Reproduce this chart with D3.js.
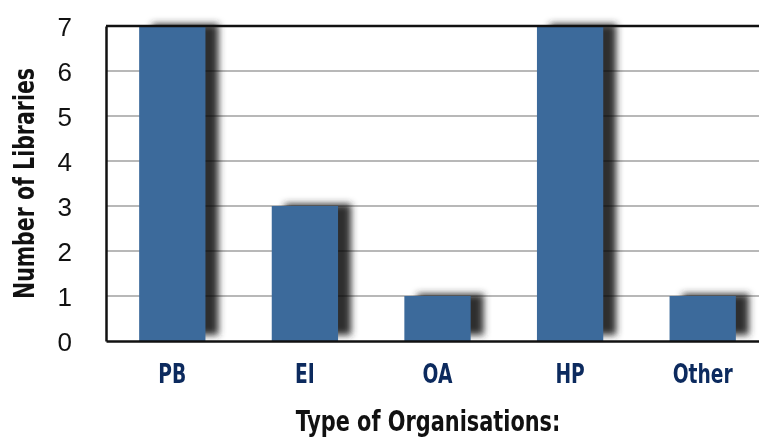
<!DOCTYPE html>
<html>
<head>
<meta charset="utf-8">
<script src="https://cdn.jsdelivr.net/npm/d3@7"></script>
<style>
  body { margin: 0; background: #fff; }
  svg { display: block; }
</style>
</head>
<body>
<div id="chart"></div>
<script>
const categories = ["PB", "EI", "OA", "HP", "Other"];
const libraryCounts = [7, 3, 1, 7, 1];
const yTicks = [0, 1, 2, 3, 4, 5, 6, 7];

const W = 759, H = 437;
const margin = { top: 26, right: -10, bottom: 96, left: 106 },
    width = W - margin.left - margin.right,
    height = H - margin.top - margin.bottom;

const svg = d3.select("#chart")
    .append("svg")
        .attr("width", W)
        .attr("height", H);

const defs = svg.append("defs");
defs.append("filter")
    .attr("id", "blur")
    .attr("x", "-50%").attr("y", "-50%")
    .attr("width", "200%").attr("height", "200%")
  .append("feGaussianBlur")
    .attr("stdDeviation", 3.5);

const g = svg.append("g")
    .attr("transform", `translate(${margin.left},${margin.top})`);

const x = d3.scaleBand()
    .domain(categories)
    .range([0, width])
    .paddingInner(0.5)
    .paddingOuter(0.25);

const y = d3.scaleLinear()
    .domain([0, 7])
    .range([height, 0]);

// bar shadows
g.selectAll(".shadow")
    .data(categories)
    .join("rect")
        .attr("class", "shadow")
        .attr("x", d => x(d) + 13)
        .attr("y", (d, i) => y(libraryCounts[i]) - 2)
        .attr("width", x.bandwidth())
        .attr("height", (d, i) => height - y(libraryCounts[i]) - 4)
        .attr("fill", "#2e2e2e")
        .attr("filter", "url(#blur)");

// gridlines
g.selectAll(".grid")
    .data(yTicks.slice(1, -1))
    .join("line")
        .attr("class", "grid")
        .attr("x1", 0)
        .attr("x2", width)
        .attr("y1", d => y(d))
        .attr("y2", d => y(d))
        .attr("stroke", "#b8b8b8")
        .attr("stroke-width", 2)
        .style("mix-blend-mode", "multiply");

// bars
g.selectAll(".bar")
    .data(categories)
    .join("rect")
        .attr("class", "bar")
        .attr("x", d => x(d))
        .attr("y", (d, i) => y(libraryCounts[i]))
        .attr("width", x.bandwidth())
        .attr("height", (d, i) => height - y(libraryCounts[i]))
        .attr("fill", "#3c6a9b");

// frame: top border, left axis, bottom axis
g.append("line")
    .attr("x1", 0).attr("x2", width)
    .attr("y1", y(7)).attr("y2", y(7))
    .attr("stroke", "#111").attr("stroke-width", 2.5);

const yAxisGroup = g.append("g")
    .call(d3.axisLeft(y).tickValues(yTicks).tickSize(0).tickPadding(34).tickFormat(d3.format("d")));
yAxisGroup.select(".domain").attr("stroke", "#111").attr("stroke-width", 2.5);
yAxisGroup.selectAll("text")
    .attr("dy", "0.36em")
    .style("font-family", "'Liberation Sans', Arial, sans-serif")
    .style("font-size", "26px")
    .style("fill", "#111");

const xAxisGroup = g.append("g")
    .attr("transform", `translate(0,${height})`)
    .call(d3.axisBottom(x).tickSize(0).tickPadding(0).tickFormat(""));
xAxisGroup.select(".domain").attr("stroke", "#111").attr("stroke-width", 2.5);

// category labels (condensed bold)
g.selectAll(".xlabel")
    .data(categories)
    .join("text")
        .attr("class", "xlabel")
        .attr("transform", d => `translate(${x(d) + x.bandwidth() / 2},${height + 42}) scale(0.8,1)`)
        .attr("text-anchor", "middle")
        .style("font-family", "'DejaVu Sans Condensed', 'DejaVu Sans', sans-serif")
        .style("font-weight", "bold")
        .style("font-size", "26px")
        .style("fill", "#0c2a5e")
        .text(d => d);

// x axis title
svg.append("text")
    .attr("transform", `translate(428,431) scale(0.8,1)`)
    .attr("text-anchor", "middle")
    .style("font-family", "'DejaVu Sans Condensed', 'DejaVu Sans', sans-serif")
    .style("font-weight", "bold")
    .style("font-size", "29px")
    .style("fill", "#111")
    .text("Type of Organisations:");

// y axis title
svg.append("text")
    .attr("transform", `translate(34,${margin.top + height / 2}) rotate(-90) scale(0.8,1)`)
    .attr("text-anchor", "middle")
    .style("font-family", "'DejaVu Sans Condensed', 'DejaVu Sans', sans-serif")
    .style("font-weight", "bold")
    .style("font-size", "28.5px")
    .style("fill", "#111")
    .text("Number of Libraries");
</script>
</body>
</html>
